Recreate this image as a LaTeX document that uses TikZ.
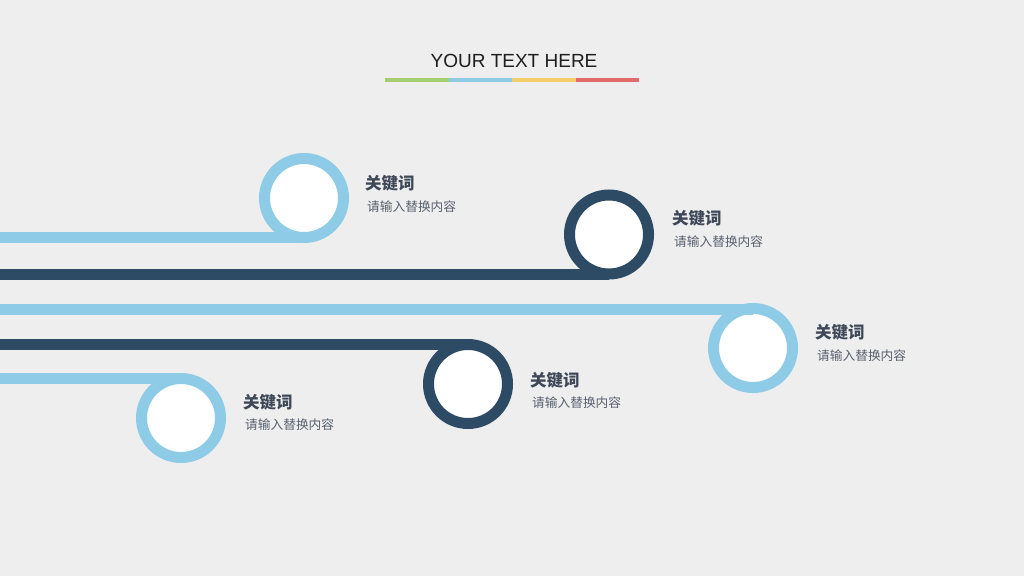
\documentclass[tikz,border=0pt]{standalone}
\usepackage{fontspec}
\setmainfont{Liberation Sans}
\newfontfamily\cjk{Noto Sans CJK SC}
\definecolor{bg}{RGB}{238,238,238}
\definecolor{lblue}{RGB}{141,203,230}
\definecolor{dblue}{RGB}{46,75,102}
\definecolor{lgreen}{RGB}{165,206,110}
\definecolor{lyellow}{RGB}{245,205,106}
\definecolor{lred}{RGB}{224,106,106}
\definecolor{keyc}{RGB}{62,72,88}
\definecolor{subc}{RGB}{88,96,110}
\definecolor{titlec}{RGB}{30,30,30}
\tikzset{
  ring/.style={circle, draw=#1, line width=11pt, fill=white, minimum size=79pt, inner sep=0pt, outer sep=0pt},
  track/.style={draw=#1, line width=11pt},
  keyw/.style={anchor=west, inner sep=0pt, text=keyc, font=\cjk\bfseries\fontsize{16.5}{18}\selectfont},
  subw/.style={anchor=west, inner sep=0pt, text=subc, font=\cjk\fontsize{12.7}{14}\selectfont},
  bar/.style={draw=#1, line width=3.5pt}
}
\begin{document}
\begin{tikzpicture}[x=1pt,y=-1pt]
\fill[bg] (0,0) rectangle (1024,576);
\useasboundingbox (0,0) rectangle (1024,576);
% title
\node[inner sep=0pt, text=titlec, font=\fontsize{19}{22}\selectfont] (title) at (514,60.5) {YOUR TEXT HERE};
\coordinate (u0) at (385,80);
\coordinate (u1) at (448.5,80);
\coordinate (u2) at (512,80);
\coordinate (u3) at (575.5,80);
\coordinate (u4) at (639,80);
\draw[bar=lgreen] (u0) -- (u1);
\draw[bar=lblue] (u1) -- (u2);
\draw[bar=lyellow] (u2) -- (u3);
\draw[bar=lred] (u3) -- (u4);
% circles
\node[ring=lblue] (c1) at (304,198) {};
\node[ring=dblue] (c2) at (609,234.5) {};
\node[ring=lblue] (c3) at (753,348) {};
\node[ring=dblue] (c4) at (468,384) {};
\node[ring=lblue] (c5) at (181,418) {};
% tracks
\coordinate (s1) at (0,237.5);
\coordinate (s2) at (0,274);
\coordinate (s3) at (0,309);
\coordinate (s4) at (0,344.5);
\coordinate (s5) at (0,378.5);
\draw[track=lblue] (s1) -- (s1 -| c1.south);
\draw[track=dblue] (s2) -- (s2 -| c2.south);
\draw[track=lblue] (s3) -- (s3 -| c3.north);
\draw[track=dblue] (s4) -- (s4 -| c4.north);
\draw[track=lblue] (s5) -- (s5 -| c5.north);
% labels
\node[keyw] (k1) at (365,183) {关键词};
\node[subw] (t1) at (367,207) {请输入替换内容};
\node[keyw] (k2) at (672,218) {关键词};
\node[subw] (t2) at (674,242) {请输入替换内容};
\node[keyw] (k3) at (815,332) {关键词};
\node[subw] (t3) at (817,356) {请输入替换内容};
\node[keyw] (k4) at (530,380) {关键词};
\node[subw] (t4) at (532,403) {请输入替换内容};
\node[keyw] (k5) at (243,402) {关键词};
\node[subw] (t5) at (245,425) {请输入替换内容};
\end{tikzpicture}
\end{document}
